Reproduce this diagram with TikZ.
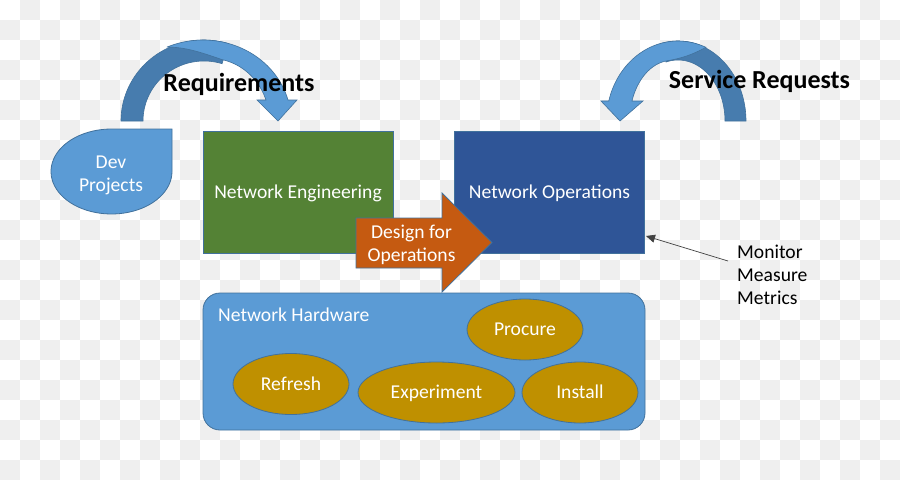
\documentclass[tikz,border=0pt]{standalone}
\usepackage{fontspec}
\setmainfont{Carlito}
\usetikzlibrary{arrows.meta,shapes.geometric}
\definecolor{chk}{HTML}{EFEFEF}
\definecolor{lblue}{HTML}{5B9BD5}
\definecolor{dblue}{HTML}{477CAE}
\definecolor{edgeb}{HTML}{41719C}
\definecolor{engg}{HTML}{548235}
\definecolor{opsb}{HTML}{2F5597}
\definecolor{orng}{HTML}{C55A11}
\definecolor{gold}{HTML}{BF9000}
\begin{document}
\begin{tikzpicture}[x=1pt,y=-1pt,
  wtext/.style={text=white,font=\fontsize{19.6}{23}\selectfont,inner sep=0pt},
  btext/.style={text=black,font=\fontsize{19.6}{23}\selectfont,inner sep=0pt},
  head/.style={text=black,font=\bfseries\fontsize{26}{30}\selectfont,inner sep=0pt},
  blk/.style={draw=edgeb,line width=0.8pt,minimum width=190pt,minimum height=122pt,inner sep=0pt,
    text=white,font=\fontsize{19.6}{23}\selectfont,text height=12.6pt,text depth=0pt},
  oval/.style={ellipse,fill=gold,draw=edgeb,line width=0.8pt,minimum height=61pt,inner sep=0pt,
    text=white,font=\fontsize{19.6}{23}\selectfont,text height=12.6pt,text depth=0pt},
  shp/.style={draw=edgeb,line width=0.6pt}
]
\useasboundingbox (0,0) rectangle (900,480);
\fill[white] (0,0) rectangle (900,480);
% checkerboard background
\foreach \j in {0,2,...,22}{
  \foreach \i in {1,3,...,43}{\fill[chk] (\i*20,\j*20) rectangle ++(20,20);}
  \foreach \i in {0,2,...,44}{\fill[chk] (\i*20,\j*20+20) rectangle ++(20,20);}
}
% Requirements curved arrow
\fill[dblue,shp] plot[domain=180:287.2,samples=50] ({204+83*cos(\x)},{121+81*sin(\x)})
  -- plot[domain=287.2:180,samples=50] ({204+61*cos(\x)},{121+60*sin(\x)}) -- cycle;
\fill[lblue,shp] plot[domain=245.9:345,samples=50] ({203+88*cos(\x)},{121+81*sin(\x)})
  -- (297,100) -- (278,121) -- (257,100)
  -- plot[domain=340.4:281.7,samples=50] ({210+59.4*cos(\x)},{121+62.7*sin(\x)})
  .. controls (200,52) and (185,47) .. (167.1,47.1) -- cycle;
% Service Requests curved arrow
\fill[dblue,shp] plot[domain=360:255.2,samples=50] ({678+68*cos(\x)},{121+80*sin(\x)})
  -- plot[domain=255.2:360,samples=50] ({678+47*cos(\x)},{121+61*sin(\x)}) -- cycle;
\fill[lblue,shp] plot[domain=293.1:194.5,samples=50] ({678+71.5*cos(\x)},{121+80*sin(\x)})
  -- (601,101) -- (620,121) -- (643,101)
  -- plot[domain=199.3:261.9,samples=50] ({672+42.4*cos(\x)},{121+60.6*sin(\x)})
  .. controls (690,57) and (700,50) .. (706.05,47.4) -- cycle;
\node[head,anchor=north] (req) at (239,73.5) {Requirements};
\node[head,anchor=north] (svc) at (759.5,70) {Service Requests};
% Dev Projects teardrop
\fill[lblue,draw=edgeb,line width=0.8pt] (111.5,129) -- (172,129) -- (172,171.5)
  -- plot[domain=0:270,samples=60] ({111.5+60.5*cos(\x)},{171.5+42.5*sin(\x)}) -- cycle;
\node[wtext,align=center,anchor=north] (dev) at (111,155.5) {Dev\\Projects};
% main boxes
\node[blk,fill=engg] (eng) at (298,192.5) {Network Engineering};
\node[blk,fill=opsb] (ops) at (549.5,192.5) {Network Operations};
% hardware
\node[fill=lblue,draw=edgeb,line width=0.8pt,rounded corners=17pt,minimum width=442pt,minimum height=137pt,inner sep=0pt] (hw) at (424,361.5) {};
\node[wtext,anchor=base west] (hwl) at (218,321.7) {Network Hardware};
% design for operations arrow
\fill[orng,draw=edgeb,line width=0.8pt] (356,218) -- (442,218) -- (442,193) -- (492,242.5)
  -- (442,292) -- (442,268) -- (356,268) -- cycle;
\node[wtext,align=center,anchor=north] (dfo) at (411.5,224.5) {Design for\\Operations};
% ovals
\node[oval,minimum width=116pt] (proc) at (525,329.5) {Procure};
\node[oval,minimum width=116pt] (refr) at (291,384) {Refresh};
\node[oval,minimum width=157pt] (expe) at (436.5,392.5) {Experiment};
\node[oval,minimum width=116pt] (inst) at (580,392.5) {Install};
% monitor
\node[btext,align=left,anchor=north west] (mon) at (737,244.5) {Monitor\\Measure\\Metrics};
\coordinate (monfoot) at (728,261);
\coordinate (opsport) at (646,236);
\draw[draw=black!75,line width=0.7pt,-{Triangle[length=9pt,width=8pt]}] (monfoot) -- (opsport);
\end{tikzpicture}
\end{document}
